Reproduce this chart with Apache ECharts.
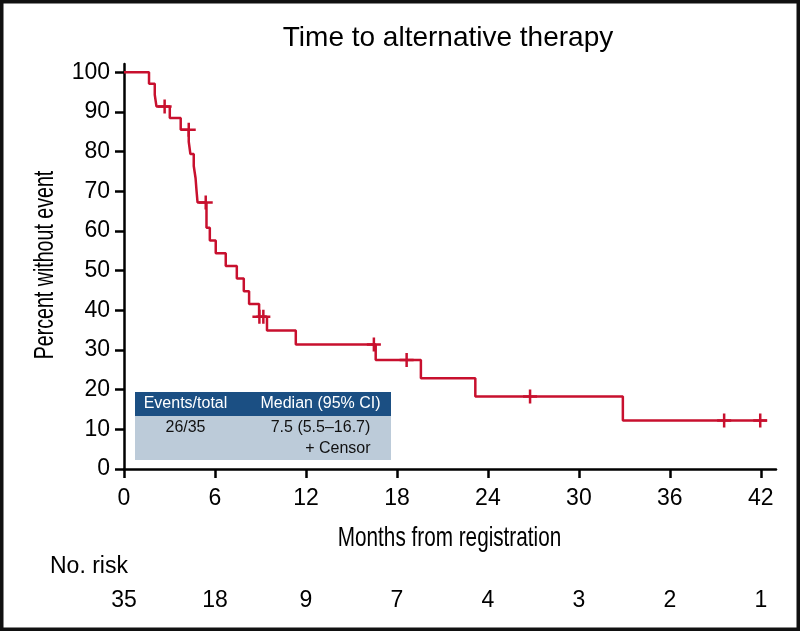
<!DOCTYPE html>
<html><head><meta charset="utf-8">
<script src="https://cdn.jsdelivr.net/npm/echarts@6/dist/echarts.min.js"></script>
<style>html,body{margin:0;padding:0;background:#fff}#c{width:800px;height:631px}</style>
</head><body><div id="c"></div>
<script>
// ---- data ----
const eventTimes = [0, 1.65, 2.03, 2.14, 3.02, 3.74, 4.27, 4.38, 4.60, 4.72, 4.78, 4.85, 5.44, 5.66, 6.05, 6.71, 7.44, 7.90, 8.25, 8.91, 9.43, 11.33, 16.60, 19.58, 23.17, 32.90, 42.40];
const survival   = [100, 97.1, 94.3, 91.4, 88.5, 85.5, 82.5, 79.4, 76.4, 73.3, 70.3, 67.2, 60.8, 57.6, 54.4, 51.2, 48.0, 44.8, 41.6, 38.4, 34.9, 31.4, 27.5, 22.9, 18.3, 12.2, 12.2];
const censorTimes = [2.68, 4.27, 5.39, 8.93, 9.19, 16.48, 18.64, 26.78, 39.58, 41.96];
const censorSurv  = [91.4, 85.5, 67.2, 38.4, 38.4, 31.4, 27.5, 18.3, 12.2, 12.2];
const xTicks = [0, 6, 12, 18, 24, 30, 36, 42];
const yTicks = [0, 10, 20, 30, 40, 50, 60, 70, 80, 90, 100];
const atRisk = [35, 18, 9, 7, 4, 3, 2, 1];
const titleText = 'Time to alternative therapy';
const xTitle = 'Months from registration';
const yTitle = 'Percent without event';
const tableHeader = ['Events/total', 'Median (95% CI)'];
const tableRow = ['26/35', '7.5 (5.5\u201316.7)'];
const censorLabel = '+ Censor';
const riskLabel = 'No. risk';

// ---- styling ----
const RED = '#c8102e';
const SANS = "'Liberation Sans', Arial, Helvetica, sans-serif";

const chart = echarts.init(document.getElementById('c'), null, {renderer: 'canvas'});
const censorSymbol = 'path://M5.75,0 L8.25,0 L8.25,5.75 L14,5.75 L14,8.25 L8.25,8.25 L8.25,14 L5.75,14 L5.75,8.25 L0,8.25 L0,5.75 L5.75,5.75 Z';

chart.setOption({
  animation: false,
  backgroundColor: '#fff',
  grid: {left: 124, right: 24, top: 64, bottom: 162, containLabel: false},
  xAxis: [{
    type: 'value', min: 0, max: 43, position: 'bottom',
    axisLine: {show: true, onZero: false, lineStyle: {color: '#000', width: 2.5}},
    axisTick: {show: true, length: 9, customValues: xTicks, lineStyle: {color: '#000', width: 2.5}},
    axisLabel: {customValues: xTicks, margin: 18, fontSize: 23, color: '#000', fontFamily: SANS},
    splitLine: {show: false}
  }, {
    type: 'value', min: 0, max: 43, position: 'bottom', offset: 102,
    axisLine: {show: false}, axisTick: {show: false}, splitLine: {show: false},
    axisLabel: {customValues: xTicks, margin: 18, fontSize: 23, color: '#000', fontFamily: SANS,
      formatter: v => { const i = xTicks.indexOf(v); return i >= 0 ? String(atRisk[i]) : ''; }}
  }],
  yAxis: {
    type: 'value', min: 0, max: 102.1,
    axisLine: {show: true, onZero: false, lineStyle: {color: '#000', width: 2.5}},
    axisTick: {show: true, length: 9, customValues: yTicks, lineStyle: {color: '#000', width: 2.5}},
    axisLabel: {customValues: yTicks, margin: 14, fontSize: 23, color: '#000', fontFamily: SANS},
    splitLine: {show: false}
  },
  series: [{
    type: 'line', step: 'end', showSymbol: false, symbol: 'none',
    data: eventTimes.map((t, i) => [t, survival[i]]),
    lineStyle: {color: RED, width: 2.5}, z: 3
  }, {
    type: 'scatter', symbol: censorSymbol, symbolSize: 14,
    data: censorTimes.map((t, i) => [t, censorSurv[i]]),
    itemStyle: {color: RED, opacity: 1}, z: 4
  }],
  graphic: [
    {type: 'rect', shape: {x: 1.75, y: 1.75, width: 796.5, height: 627.5},
     style: {fill: 'none', stroke: '#111', lineWidth: 3.5}, silent: true},
    {type: 'text', style: {text: titleText, x: 448, y: 38, align: 'center', verticalAlign: 'middle',
     fontSize: 28, fontFamily: SANS, fill: '#000'}},
    // condensed axis titles (horizontal squeeze of a regular sans face)
    {type: 'text', x: 449.5, y: 538, scaleX: 0.74, scaleY: 1,
     style: {text: xTitle, x: 0, y: 0, align: 'center', verticalAlign: 'middle',
     fontSize: 28, fontFamily: SANS, fill: '#000'}},
    {type: 'text', x: 45.5, y: 265, rotation: Math.PI / 2, scaleX: 0.70, scaleY: 1,
     style: {text: yTitle, x: 0, y: 0, align: 'center', verticalAlign: 'middle',
     fontSize: 28, fontFamily: SANS, fill: '#000'}},
    {type: 'text', style: {text: riskLabel, x: 50, y: 567, align: 'left', verticalAlign: 'middle',
     fontSize: 23, fontFamily: SANS, fill: '#000'}},
    {type: 'rect', shape: {x: 135, y: 392, width: 256, height: 24}, style: {fill: '#1b4f83'}},
    {type: 'rect', shape: {x: 135, y: 416, width: 256, height: 44}, style: {fill: '#bccbd9'}},
    {type: 'text', style: {text: tableHeader[0], x: 185.5, y: 404, align: 'center', verticalAlign: 'middle',
     fontSize: 16, fontFamily: SANS, fill: '#fff'}},
    {type: 'text', style: {text: tableHeader[1], x: 320.5, y: 404, align: 'center', verticalAlign: 'middle',
     fontSize: 16, fontFamily: SANS, fill: '#fff'}},
    {type: 'text', style: {text: tableRow[0], x: 185.5, y: 428, align: 'center', verticalAlign: 'middle',
     fontSize: 16, fontFamily: SANS, fill: '#111'}},
    {type: 'text', style: {text: tableRow[1], x: 320.5, y: 428, align: 'center', verticalAlign: 'middle',
     fontSize: 16, fontFamily: SANS, fill: '#111'}},
    {type: 'text', style: {text: censorLabel, x: 370.5, y: 449, align: 'right', verticalAlign: 'middle',
     fontSize: 16, fontFamily: SANS, fill: '#111'}}
  ]
});
</script></body></html>
